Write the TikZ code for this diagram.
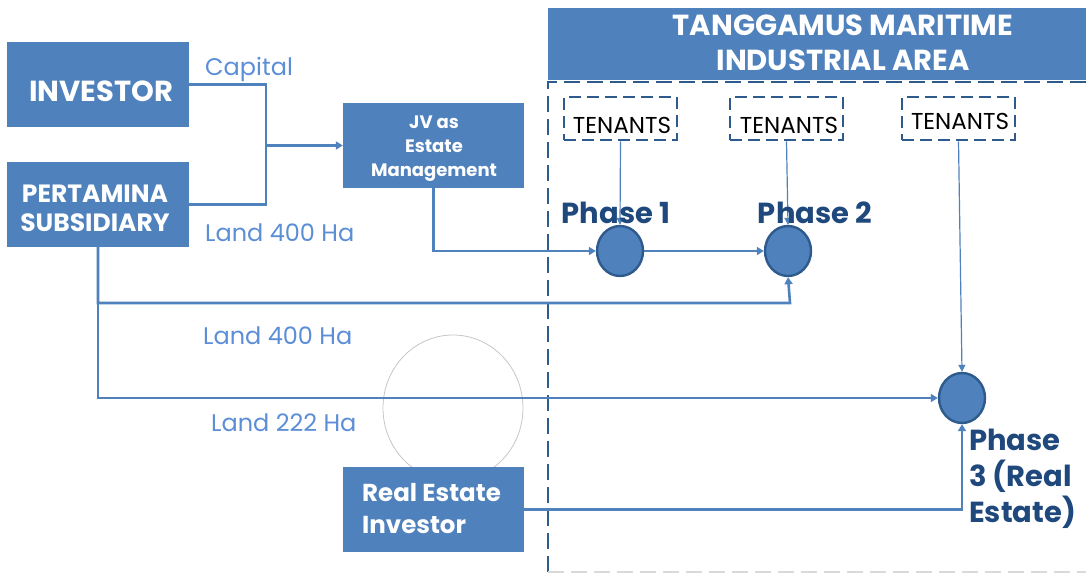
\documentclass[tikz,border=0pt]{standalone}
\usepackage{fontspec}
\setmainfont{Poppins}
\usetikzlibrary{shapes.geometric,arrows.meta}

\definecolor{boxblue}{HTML}{4F81BD}
\definecolor{lineblue}{HTML}{4F81BD}
\definecolor{lblblue}{HTML}{5B8ED6}
\definecolor{darkblue}{HTML}{1F497D}
\definecolor{dashblue}{HTML}{2E5A8C}

\tikzset{
  bluebox/.style={draw=none,fill=boxblue,text=white,font=\bfseries,inner sep=0pt,align=center},
  boxtxt/.style={text=white,inner sep=0pt},
  flow/.style={lineblue,line width=2.6pt},
  arr/.style={flow,-{Triangle[width=8pt,length=7pt]}},
  thinarr/.style={lineblue,line width=1.2pt,-{Triangle[width=7pt,length=7pt]}},
  lbl/.style={text=lblblue,font=\fontsize{24}{28}\selectfont,inner sep=0pt},
  tenbox/.style={draw=dashblue,line width=2.6pt,dash pattern=on 12pt off 6pt,
    minimum width=113pt,minimum height=43pt,inner sep=0pt},
  tentxt/.style={font=\fontsize{23}{26}\selectfont,inner sep=0pt},
  phase/.style={ellipse,draw=dashblue,fill=boxblue,line width=2.4pt,minimum width=46pt,minimum height=50pt,inner sep=0pt},
  phaselbl/.style={text=darkblue,font=\bfseries\fontsize{29}{36}\selectfont,inner sep=0pt}
}

\begin{document}
\begin{tikzpicture}[x=1pt,y=-1pt]
\useasboundingbox (0,0) rectangle (1086,573);

% industrial area frame
\node[bluebox,minimum width=590pt,minimum height=72pt] (area) at (843,44) {};
\node[boxtxt,font=\bfseries\fontsize{29}{35}\selectfont,align=center] (areatxt) at (843,43) {TANGGAMUS MARITIME\\INDUSTRIAL AREA};
\draw[dashblue,line width=2.6pt,dash pattern=on 16pt off 7pt] (548,572) -- (548,82) -- (1140,82);
\draw[gray!30,line width=2pt,dash pattern=on 16pt off 7pt] (548,572) -- (1140,572);

% left side boxes
\node[bluebox,minimum width=182pt,minimum height=85pt] (inv) at (98,84.5) {};
\node[boxtxt,font=\bfseries\fontsize{29}{30}\selectfont] (invtxt) at (101,91) {INVESTOR};
\node[bluebox,minimum width=182pt,minimum height=85pt] (pert) at (98,204.5) {};
\node[boxtxt,font=\bfseries\fontsize{25}{29}\selectfont,align=center] (perttxt) at (95,208) {PERTAMINA\\SUBSIDIARY};
\node[bluebox,minimum width=181pt,minimum height=85pt] (jv) at (433.5,145.5) {};
\node[boxtxt,font=\bfseries\fontsize{18}{24}\selectfont,align=center] (jvtxt) at (434,149) {JV as\\Estate\\Management};

\draw[gray!45,line width=0.8pt] (453,408) ellipse (70 and 73);
\node[bluebox,minimum width=181pt,minimum height=85pt] (rei) at (433.5,509.5) {};
\node[boxtxt,font=\bfseries\fontsize{24.5}{32}\selectfont,align=left,anchor=west] (reitxt) at (362,509) {Real Estate\\ Investor};

% tenants
\node[tenbox] (ten1) at (620.5,118.5) {};
\node[tenbox] (ten2) at (786.5,118.5) {};
\node[tenbox] (ten3) at (958.5,118.5) {};
\node[tentxt] (ten1txt) at (622,125) {TENANTS};
\node[tentxt] (ten2txt) at (789,125) {TENANTS};
\node[tentxt] (ten3txt) at (960,121) {TENANTS};

% phases
\node[phase] (ph1) at (620,251) {};
\node[phase] (ph2) at (788,251) {};
\node[phase] (ph3) at (962,398) {};

\draw[thinarr] (ten1.south) -- (ph1.north);
\draw[thinarr] (ten2.south) -- (ph2.north);
\draw[thinarr] (ten3.south) -- (ph3.north);

\node[phaselbl] (p1lbl) at (616,213) {Phase 1};
\node[phaselbl] (p2lbl) at (815,213) {Phase 2};
\node[phaselbl,anchor=north west,align=left] (p3lbl) at (969,429) {Phase\\3 (Real\\Estate)};

% flows
\coordinate (jn) at (266,145.5);
\coordinate (bend2) at (790,303);
\draw[flow] (inv.east) -- (266,84.5) |- (pert.east);
\draw[arr] (jn) -- (jv.west);
\draw[arr] (jv.south) |- (ph1.west);
\draw[arr] (ph1.east) -- (ph2.west);
\draw[arr] (pert.south) |- (bend2) -- (ph2.south);
\draw[arr] (pert.south) |- (ph3.west);
\draw[arr] (rei.east) -| (ph3.south);

% labels
\node[lbl,anchor=west] (cap) at (205,69) {Capital};
\node[lbl,anchor=west] (land1) at (205,233) {Land 400 Ha};
\node[lbl,anchor=west] (land2) at (203,336) {Land 400 Ha};
\node[lbl,anchor=west] (land3) at (211,423) {Land 222 Ha};

\end{tikzpicture}
\end{document}
